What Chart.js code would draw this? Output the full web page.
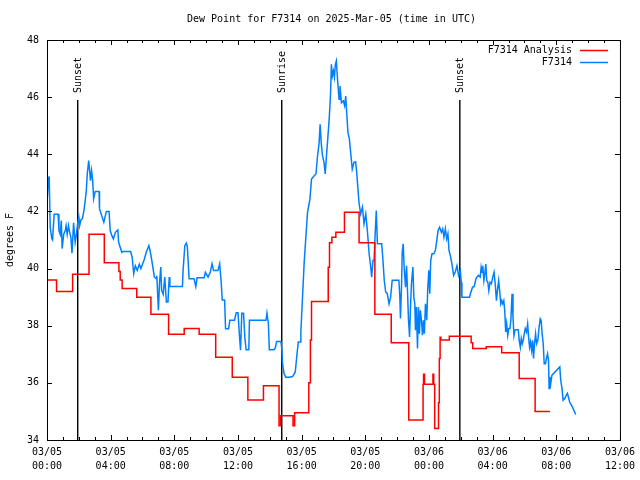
<!DOCTYPE html>
<html>
<head>
<meta charset="utf-8">
<script src="https://cdn.jsdelivr.net/npm/chart.js@4/dist/chart.umd.min.js"></script>
<style>
  html, body { margin: 0; padding: 0; background: #fff; }
  canvas { display: block; }
</style>
</head>
<body>
<canvas id="dew" width="640" height="480"></canvas>
<script>
// hours since 03/05 00:00 UTC
const xTickDates = ['03/05','03/05','03/05','03/05','03/05','03/05','03/06','03/06','03/06','03/06'];
const xTickTimes = ['00:00','04:00','08:00','12:00','16:00','20:00','00:00','04:00','08:00','12:00'];

// analysis (step values, time = when the new value starts)
const anaTimes = [0, 0.6, 1.61, 2.64, 3.6, 4.52, 4.6, 4.72, 5.64, 6.53, 7.64, 8.62, 9.56, 10.6, 11.64,
  12.62, 13.6, 14.58, 14.68, 15.46, 15.56, 16.45, 16.55, 16.62, 17.67, 17.75, 17.9, 18.15, 18.69,
  19.61, 20.6, 21.63, 22.73, 23.63, 23.66, 23.72, 24.25, 24.3, 24.36, 24.6, 24.65, 24.7, 24.75,
  25.2, 25.28, 26.65, 26.75, 27.6, 28.57, 29.67, 30.67, 31.6];
const anaDewpt = [39.6, 39.2, 39.8, 41.2, 40.2, 39.9, 39.6, 39.3, 39.0, 38.4, 37.7, 37.9, 37.7, 36.9, 36.2,
  35.4, 35.9, 34.5, 34.85, 34.5, 34.95, 36.0, 37.5, 38.85, 40.05, 40.9, 41.1, 41.27, 41.97,
  40.9, 38.4, 37.4, 34.7, 35.95, 36.3, 35.95, 36.3, 35.95, 34.4, 35.3, 36.85, 37.6, 37.5,
  37.5, 37.63, 37.4, 37.2, 37.26, 37.05, 36.15, 35.0, 35.0];

// station observations
const obsTimes = [0, 0.1, 0.14, 0.2, 0.3, 0.35, 0.45, 0.7, 0.75, 0.83, 0.9, 0.95, 1.05, 1.15, 1.2, 1.27,
  1.35, 1.4, 1.5, 1.57, 1.67, 1.77, 1.85, 1.93, 2.0, 2.05, 2.13, 2.22, 2.32, 2.4, 2.47, 2.53, 2.62,
  2.7, 2.73, 2.8, 2.87, 2.93, 3.03, 3.27, 3.3, 3.57, 3.73, 3.9, 3.97, 4.07, 4.17, 4.3, 4.45, 4.5,
  4.7, 4.78, 5.25, 5.35, 5.45, 5.55, 5.67, 5.8, 5.9, 6.1, 6.25, 6.4, 6.47, 6.58, 6.75, 6.85, 6.9,
  7.0, 7.07, 7.15, 7.2, 7.3, 7.4, 7.5, 7.6, 7.68, 7.72, 8.51, 8.55, 8.66, 8.76, 8.82, 8.93, 9.24,
  9.35, 9.43, 9.87, 9.95, 10.12, 10.26, 10.37, 10.47, 10.74, 10.85, 10.95, 11.01, 11.16, 11.22,
  11.41, 11.49, 11.78, 11.89, 12.0, 12.1, 12.16, 12.24, 12.35, 12.43, 12.51, 12.68, 12.72, 13.76,
  13.82, 13.91, 13.97, 14.26, 14.35, 14.43, 14.7, 14.76, 14.8, 14.9, 15.0, 15.22, 15.43, 15.6,
  15.7, 15.79, 15.9, 15.95, 16.06, 16.16, 16.27, 16.37, 16.52, 16.62, 16.79, 16.9, 17.0, 17.1,
  17.16, 17.23, 17.31, 17.41, 17.48, 17.56, 17.64, 17.73, 17.81, 17.87, 17.93, 18.0, 18.06, 18.12,
  18.18, 18.27, 18.35, 18.41, 18.5, 18.62, 18.7, 18.77, 18.83, 18.91, 19.0, 19.08, 19.18, 19.29,
  19.39, 19.45, 19.54, 19.6, 19.71, 19.82, 19.92, 20.03, 20.13, 20.24, 20.34, 20.4, 20.48, 20.55,
  20.61, 20.69, 20.76, 21.03, 21.11, 21.19, 21.28, 21.38, 21.49, 21.59, 21.69, 22.11, 22.17, 22.21,
  22.28, 22.32, 22.38, 22.44, 22.53, 22.59, 22.65, 22.71, 22.78, 22.84, 22.9, 22.99, 23.05, 23.11,
  23.15, 23.21, 23.28, 23.34, 23.4, 23.46, 23.53, 23.59, 23.65, 23.71, 23.78, 23.86, 23.92, 23.99,
  24.05, 24.11, 24.19, 24.3, 24.4, 24.49, 24.57, 24.67, 24.78, 24.86, 24.94, 25.03, 25.11, 25.19,
  25.26, 25.34, 25.44, 25.55, 25.65, 25.76, 25.86, 25.97, 26.03, 26.07, 26.55, 26.63, 26.74, 26.84,
  26.95, 27.01, 27.11, 27.22, 27.28, 27.34, 27.38, 27.45, 27.51, 27.57, 27.63, 27.7, 27.76, 27.84,
  27.92, 28.01, 28.09, 28.17, 28.24, 28.3, 28.38, 28.45, 28.51, 28.57, 28.63, 28.7, 28.76, 28.82,
  28.88, 28.95, 29.01, 29.09, 29.15, 29.22, 29.28, 29.34, 29.4, 29.45, 29.61, 29.67, 29.74, 29.8,
  29.86, 29.92, 29.99, 30.05, 30.13, 30.2, 30.26, 30.32, 30.38, 30.45, 30.51, 30.57, 30.63, 30.7,
  30.76, 30.84, 30.92, 30.99, 31.05, 31.11, 31.18, 31.24, 31.32, 31.38, 31.45, 31.51, 31.55, 31.59,
  31.65, 31.72, 32.22, 32.28, 32.36, 32.43, 32.53, 32.63, 32.7, 32.84, 33.01, 33.22];
const obsDewpt = [42.3, 43.2, 43.2, 41.45, 41.05, 41.0, 41.9, 41.9, 41.33, 41.2, 41.68, 40.7, 41.2, 41.33, 41.5, 41.2,
  41.5, 41.33, 41.1, 40.54, 41.6, 40.92, 41.2, 41.6, 41.8, 41.5, 41.7, 41.74, 42.03, 42.38, 42.73, 43.31, 43.78,
  43.3, 43.08, 43.43, 43.08, 42.44, 42.7, 42.7, 42.09, 41.62, 42.0, 42.0, 41.33, 41.16, 41.04, 41.27, 41.35, 40.92,
  40.57, 40.6, 40.6, 40.4, 39.82, 40.1, 39.94, 40.15, 40.0, 40.3, 40.6, 40.8, 40.65, 40.3, 39.7, 39.65, 39.75,
  38.54, 39.5, 40.05, 39.24, 39.1, 39.7, 38.83, 38.83, 39.7, 39.37, 39.37, 39.93, 40.81, 40.89, 40.75, 39.64, 39.64,
  39.37, 39.68, 39.68, 39.87, 39.7, 39.87, 40.17, 39.93, 39.93, 40.17, 39.47, 38.9, 38.9, 37.89,
  37.89, 38.19, 38.19, 38.45, 38.45, 37.6, 37.14, 38.44, 38.44, 37.6, 37.16, 37.16, 38.19, 38.19,
  38.44, 38.07, 37.16, 37.16, 37.23, 37.45, 37.45, 37.14, 36.67, 36.32, 36.2, 36.2, 36.22, 36.38,
  36.96, 37.43, 37.43, 37.78, 39.06, 40.22, 41.15, 41.97, 42.43, 43.13, 43.25, 43.31, 43.95, 44.41,
  45.05, 44.41, 43.95, 43.71, 43.31, 43.95, 44.53, 45.23, 46.04, 47.15, 46.74, 46.92, 46.7, 47.15,
  47.27, 46.51, 45.93, 46.39, 45.81, 45.87, 45.7, 46.04, 45.46, 44.76, 44.53, 44.06, 43.48, 43.72,
  43.74, 43.42, 42.78, 42.32, 41.91, 42.15, 41.57, 41.91, 41.33, 40.52, 40.05, 39.7, 40.28, 40.28,
  41.1, 42.03, 40.87, 40.87, 40.28, 39.59, 39.18, 39.12, 38.77, 39.0, 39.59, 39.59, 39.0, 38.25,
  39.47, 40.58, 40.87, 40.05, 39.35, 40.1, 39.24, 38.25, 37.61, 38.65, 39.47, 40.05, 39.0, 38.77,
  37.84, 38.65, 37.2, 38.65, 37.72, 38.54, 38.19, 37.67, 38.19, 37.72, 38.77, 38.19, 39.24, 39.94,
  39.12, 40.28, 40.52, 40.52, 40.63, 40.98, 41.33, 41.45, 41.27, 41.39, 41.1, 41.39, 41.04, 41.22,
  40.63, 40.46, 40.17, 39.76, 39.88, 40.1, 39.76, 39.93, 39.52, 39.0, 39.0, 39.17, 39.35, 39.37,
  39.64, 39.7, 39.76, 39.7, 40.05, 39.87, 40.1, 39.58, 39.82, 40.16, 39.58, 39.52, 39.23, 39.52,
  39.47, 39.7, 39.87, 39.41, 38.88, 39.23, 39.58, 39.17, 38.77, 38.88, 38.77, 38.88, 38.53, 37.78,
  38.07, 37.66, 37.9, 37.9, 38.24, 39.12, 38.3, 37.66, 37.84, 37.86, 37.86, 37.49, 37.25, 37.55,
  37.37, 37.49, 37.72, 37.9, 37.78, 38.07, 37.6, 37.25, 37.43, 37.14, 37.49, 36.85, 37.37, 37.72,
  37.37, 37.49, 37.95, 38.24, 38.18, 37.72, 37.37, 36.67, 36.67, 36.85, 37.02, 36.79, 35.8, 36.21,
  35.97, 36.26, 36.56, 36.09, 35.8, 35.39, 35.45, 35.57, 35.63, 35.33, 35.16, 34.89];

const sunEvents = ['Sunset', 'Sunrise', 'Sunset'];
const sunTimes = [1.93, 14.75, 25.94];
const sunTop = 45.9;

const MONO = "'DejaVu Sans Mono', 'Liberation Mono', monospace";
const RED = '#ff0000', BLUE = '#0080ff';
const xy = (ts, vs) => ts.map((t, i) => ({ x: t, y: vs[i] }));

const sunSets = sunTimes.map(t => ({
  label: '', data: [{ x: t, y: 34 }, { x: t, y: sunTop }],
  borderColor: '#000', borderWidth: 1.4, pointRadius: 0, isSun: true
}));

// gnuplot-ish frame: box, inward ticks, title, legend, sun labels
const decor = {
  id: 'decor',
  afterDraw(chart) {
    const { ctx, chartArea: a, scales: { x, y } } = chart;
    ctx.save();
    ctx.strokeStyle = '#000';
    ctx.lineWidth = 1;
    ctx.strokeRect(a.left + 0.5, a.top + 0.5, a.right - a.left, a.bottom - a.top);
    ctx.beginPath();
    for (let h = 0; h <= 36; h++) {
      const px = Math.round(x.getPixelForValue(h)) + 0.5;
      const len = h % 4 === 0 ? 5 : 3;
      ctx.moveTo(px, a.bottom); ctx.lineTo(px, a.bottom - len);
      ctx.moveTo(px, a.top); ctx.lineTo(px, a.top + len);
    }
    y.ticks.forEach(t => {
      const py = Math.round(y.getPixelForValue(t.value)) + 0.5;
      ctx.moveTo(a.left, py); ctx.lineTo(a.left + 5, py);
      ctx.moveTo(a.right, py); ctx.lineTo(a.right - 5, py);
    });
    ctx.stroke();

    ctx.fillStyle = '#000';
    ctx.font = '10px ' + MONO;
    ctx.textAlign = 'center';
    ctx.textBaseline = 'middle';
    ctx.fillText('Dew Point for F7314 on 2025-Mar-05 (time in UTC)', (a.left + a.right) / 2 - 2, 19);

    ctx.save();
    ctx.translate(10, (a.top + a.bottom) / 2);
    ctx.rotate(-Math.PI / 2);
    ctx.fillText('degrees F', 0, 0);
    ctx.restore();

    sunTimes.forEach((t, i) => {
      ctx.save();
      ctx.translate(x.getPixelForValue(t) + 1, y.getPixelForValue(sunTop) - 7);
      ctx.rotate(-Math.PI / 2);
      ctx.textAlign = 'left';
      ctx.fillText(sunEvents[i], 0, 0);
      ctx.restore();
    });

    // legend, right-aligned text with sample line after it
    const items = chart.data.datasets.filter(d => !d.isSun);
    items.forEach((d, i) => {
      const ly = Math.round(a.top + 10 + i * 12);
      ctx.fillStyle = '#000';
      ctx.textAlign = 'right';
      ctx.fillText(d.label, a.right - 48, ly);
      ctx.strokeStyle = d.borderColor;
      ctx.lineWidth = 1.5;
      ctx.beginPath();
      ctx.moveTo(a.right - 40, ly + 0.5);
      ctx.lineTo(a.right - 12, ly + 0.5);
      ctx.stroke();
    });
    ctx.restore();
  }
};

new Chart(document.getElementById('dew'), {
  type: 'line',
  data: {
    datasets: [
      { label: 'F7314 Analysis', data: xy(anaTimes, anaDewpt), borderColor: RED,
        borderWidth: 1.5, pointRadius: 0, stepped: 'before' },
      { label: 'F7314', data: xy(obsTimes, obsDewpt), borderColor: BLUE,
        borderWidth: 1.5, pointRadius: 0 },
      ...sunSets
    ]
  },
  options: {
    responsive: false,
    animation: false,
    devicePixelRatio: 1,
    layout: { padding: { top: 40, right: 18, left: 0, bottom: 0 } },
    plugins: { legend: { display: false }, tooltip: { enabled: false } },
    scales: {
      x: {
        type: 'linear', min: 0, max: 36,
        grid: { display: false, drawTicks: false },
        border: { display: false },
        afterFit: s => { s.height = 40; },
        ticks: {
          stepSize: 4, autoSkip: false, maxRotation: 0, padding: 5, color: '#000',
          font: { family: MONO, size: 10, lineHeight: 1.4 },
          callback: v => [xTickDates[v / 4], xTickTimes[v / 4]]
        }
      },
      y: {
        min: 34, max: 48,
        grid: { display: false, drawTicks: false },
        border: { display: false },
        afterFit: s => { s.width = 47; },
        ticks: { stepSize: 2, padding: 8, color: '#000', font: { family: MONO, size: 10 } }
      }
    }
  },
  plugins: [decor]
});
</script>
</body>
</html>
